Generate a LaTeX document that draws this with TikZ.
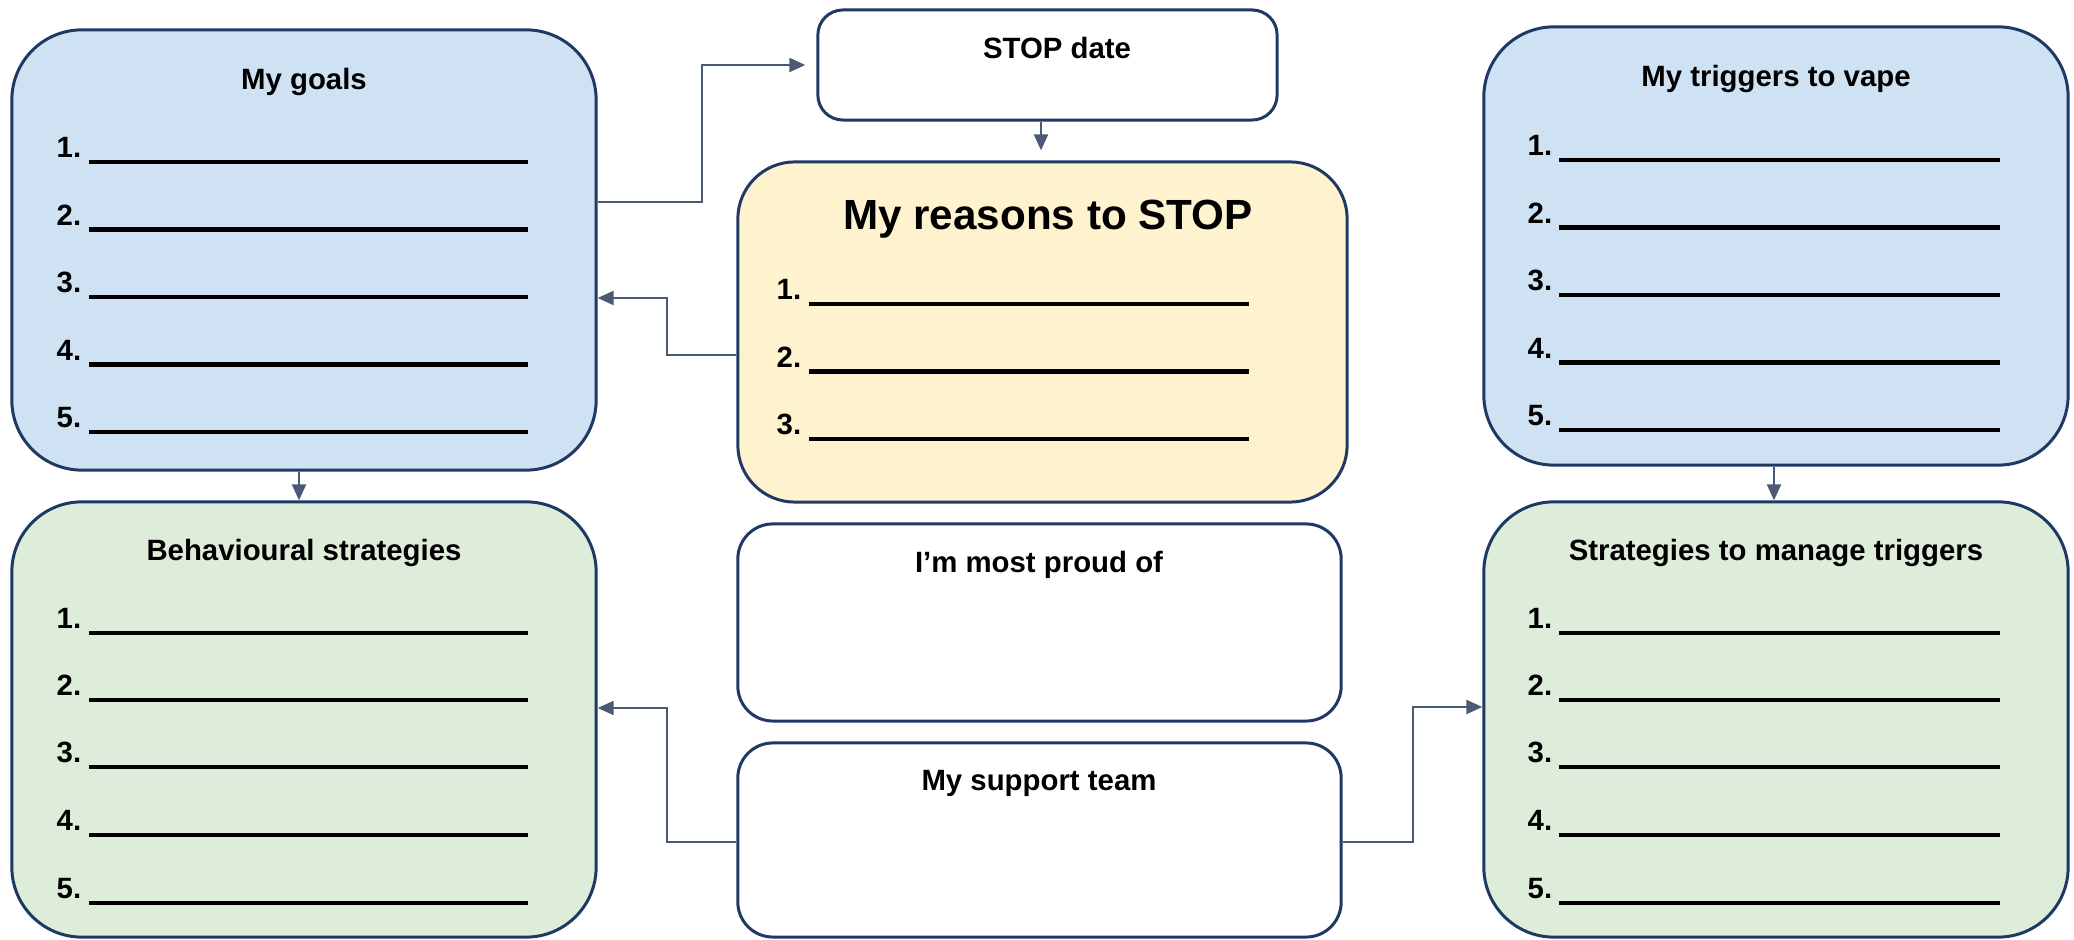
\documentclass[tikz,border=0pt]{standalone}
\usepackage{fontspec}
\setmainfont{Liberation Sans}
\usetikzlibrary{arrows.meta,calc}
\definecolor{blueF}{HTML}{CFE2F3}
\definecolor{greenF}{HTML}{DDEDD9}
\definecolor{yellowF}{HTML}{FFF2CF}
\definecolor{navy}{HTML}{1F3864}
\definecolor{connC}{HTML}{4A5A75}
\begin{document}
\begin{tikzpicture}[x=0.01cm,y=-0.01cm,
  box/.style={draw=navy, line width=0.85pt, inner sep=0pt, rectangle},
  big/.style={box, rounded corners=0.7cm, minimum width=5.84cm, minimum height=4.37cm},
  ttl/.style={font=\fontsize{8.35}{10}\selectfont\bfseries, anchor=base, inner sep=0pt},
  bigttl/.style={font=\fontsize{12}{14}\selectfont\bfseries, anchor=base, inner sep=0pt},
  num/.style={font=\fontsize{8.35}{10}\selectfont\bfseries, anchor=base west, inner sep=0pt},
  blank/.style={line width=1.15pt, black},
  conn/.style={draw=connC, line width=0.6pt, -{Triangle[length=0.16cm,width=0.14cm]}}
]
\useasboundingbox (0,0) rectangle (2074,940);

% boxes
\node[big, fill=blueF, minimum height=4.4cm] (goals) at (304,250) {};
\node[big, fill=blueF, minimum height=4.38cm] (trig) at (1776,246) {};
\node[big, fill=greenF, minimum height=4.35cm] (behav) at (304,719.5) {};
\node[big, fill=greenF, minimum height=4.35cm] (strat) at (1776,719.5) {};
\node[box, fill=yellowF, rounded corners=0.57cm, minimum width=6.09cm, minimum height=3.4cm] (reasons) at (1042.5,332) {};
\node[box, fill=white, rounded corners=0.25cm, minimum width=4.59cm, minimum height=1.1cm] (stop) at (1047.5,65) {};
\node[box, fill=white, rounded corners=0.35cm, minimum width=6.03cm, minimum height=1.97cm] (proud) at (1039.5,622.5) {};
\node[box, fill=white, rounded corners=0.35cm, minimum width=6.03cm, minimum height=1.94cm] (support) at (1039.5,840) {};

% titles
\node[ttl] (goalsT) at (304,90) {My goals};
\node[ttl] (trigT) at (1776,87) {My triggers to vape};
\node[ttl] (behavT) at (304,561) {Behavioural strategies};
\node[ttl] (stratT) at (1776,561) {Strategies to manage triggers};
\node[bigttl] (reasonsT) at (1048,230) {My reasons to STOP};
\node[ttl] (stopT) at (1057,59) {STOP date};
\node[ttl] (proudT) at (1039,573) {I’m most proud of};
\node[ttl] (supportT) at (1039,791) {My support team};

% numbered blanks
\foreach \i/\yy in {1/162,2/229.5,3/297,4/364.5,5/432}{
  \node[num] (gn\i) at (56,\yy-4) {\i.};
  \draw[blank] (89,\yy) -- (528,\yy);
}
\foreach \i/\yy in {1/160,2/227.5,3/295,4/362.5,5/430}{
  \node[num] (tn\i) at (1527,\yy-4) {\i.};
  \draw[blank] (1559,\yy) -- (2000,\yy);
}
\foreach \i/\yy in {1/633,2/700,3/767,4/835,5/903}{
  \node[num] (bn\i) at (56,\yy-4) {\i.};
  \draw[blank] (89,\yy) -- (528,\yy);
  \node[num] (sn\i) at (1527,\yy-4) {\i.};
  \draw[blank] (1559,\yy) -- (2000,\yy);
}
\foreach \i/\yy in {1/304,2/371.5,3/439}{
  \node[num] (rn\i) at (776,\yy-4) {\i.};
  \draw[blank] (809,\yy) -- (1249,\yy);
}

% connectors
\draw[conn, shorten >=0.11cm] (goals.east |- 0,202) -- (702,202) |- (stop.west);
\draw[conn, shorten >=0.1cm] (stop.south -| 1041,0) -- (reasons.north -| 1041,0);
\draw[conn] (reasons.west |- 0,355) -- (667,355) |- (goals.east |- 0,298);
\draw[conn] (goals.south -| 299,0) -- (behav.north -| 299,0);
\draw[conn] (trig.south -| 1774,0) -- (strat.north -| 1774,0);
\draw[conn] (support.west |- 0,842) -- (667,842) |- (behav.east |- 0,708);
\draw[conn] (support.east |- 0,842) -- (1413,842) |- (strat.west |- 0,707);
\end{tikzpicture}
\end{document}
